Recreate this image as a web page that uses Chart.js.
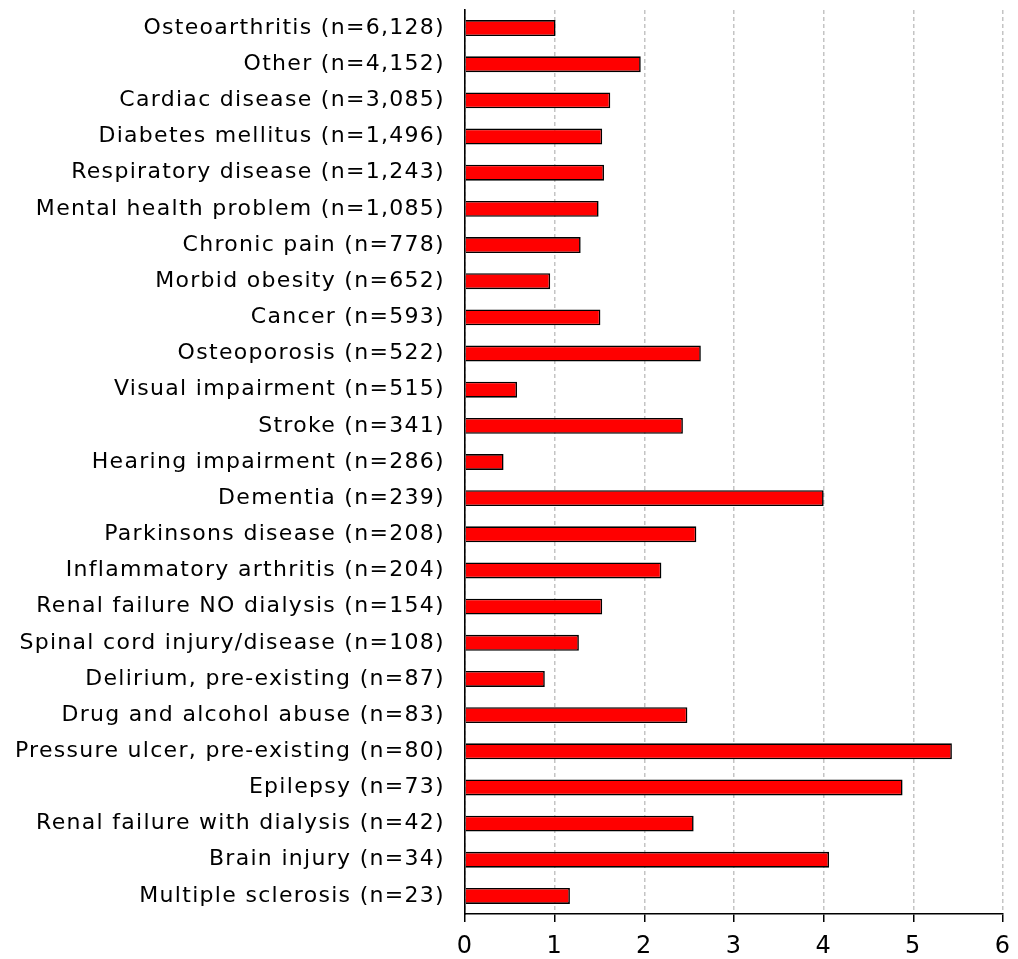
<!DOCTYPE html>
<html><head><meta charset="utf-8">
<script src="https://cdn.jsdelivr.net/npm/chart.js@4/dist/chart.umd.min.js"></script>
<style>html,body{margin:0;padding:0;background:#fff}#wrap{width:1018px;height:959px}</style>
</head><body><div id="wrap"><canvas id="c" width="1018" height="959"></canvas></div>
<script>
const categories = [
  "Osteoarthritis (n=6,128)","Other (n=4,152)","Cardiac disease (n=3,085)","Diabetes mellitus (n=1,496)",
  "Respiratory disease (n=1,243)","Mental health problem (n=1,085)","Chronic pain (n=778)","Morbid obesity (n=652)",
  "Cancer (n=593)","Osteoporosis (n=522)","Visual impairment (n=515)","Stroke (n=341)","Hearing impairment (n=286)",
  "Dementia (n=239)","Parkinsons disease (n=208)","Inflammatory arthritis (n=204)","Renal failure NO dialysis (n=154)",
  "Spinal cord injury/disease (n=108)","Delirium, pre-existing (n=87)","Drug and alcohol abuse (n=83)",
  "Pressure ulcer, pre-existing (n=80)","Epilepsy (n=73)","Renal failure with dialysis (n=42)","Brain injury (n=34)",
  "Multiple sclerosis (n=23)"
];
const values = [1.01,1.96,1.62,1.53,1.55,1.49,1.29,0.95,1.51,2.63,0.58,2.43,0.43,4.0,2.58,2.19,1.53,1.27,0.89,2.48,5.43,4.88,2.55,4.06,1.17];
const xTicks = [0,1,2,3,4,5,6];

const FONT = "'DejaVu Sans', Verdana, sans-serif";
const spacing = {
  id: 'spacing',
  beforeLayout(chart) { chart.ctx.letterSpacing = '1.3px'; },
  beforeDraw(chart) { chart.ctx.letterSpacing = '1.3px'; }
};
new Chart(document.getElementById('c'), {
  type: 'bar',
  plugins: [spacing],
  data: { labels: categories, datasets: [{ data: values, backgroundColor: '#ff0000', borderColor: '#000000', borderWidth: 1.6, barPercentage: 0.44, categoryPercentage: 1.0 }] },
  options: {
    indexAxis: 'y', responsive: false, animation: false,
    layout: { padding: { top: 10, right: 15, bottom: 0, left: 0 } },
    plugins: { legend: { display: false }, tooltip: { enabled: false } },
    scales: {
      x: {
        min: xTicks[0], max: xTicks[xTicks.length-1],
        afterBuildTicks: s => { s.ticks = xTicks.map(v => ({ value: v })); },
        afterFit: s => { s.height = 45; s.paddingLeft = 0; s.paddingRight = 0; },
        grid: { color: '#c4c4c4', lineWidth: 1.5, drawTicks: true, tickLength: 8, tickColor: '#000', tickWidth: 1.5 },
        border: { display: true, color: '#000', width: 1.6, dash: [4, 3] },
        ticks: { color: '#000', font: { family: FONT, size: 24 }, padding: 10, maxRotation: 0 }
      },
      y: {
        grid: { display: false, drawTicks: false },
        border: { display: true, color: '#000', width: 1.6 },
        afterFit: s => { s.width = 465; s.paddingTop = 0; s.paddingBottom = 0; },
        ticks: { color: '#000', font: { family: FONT, size: 22 }, padding: 20, autoSkip: false }
      }
    }
  }
});
</script></body></html>
